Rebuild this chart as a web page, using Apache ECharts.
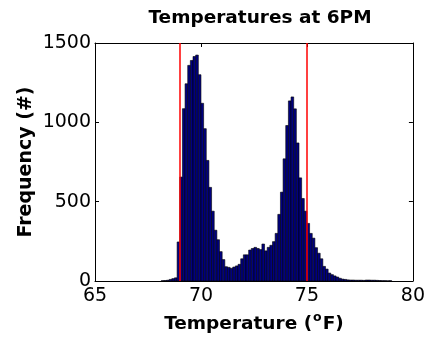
<!DOCTYPE html>
<html>
<head>
<meta charset="utf-8">
<script src="https://cdn.jsdelivr.net/npm/echarts@6/dist/echarts.min.js"></script>
<style>html,body{margin:0;padding:0;background:#fff;}#c{width:428px;height:339px;}</style>
</head>
<body>
<div id="c"></div>
<script>
// Histogram bins: first bin left edge and width (°F)
const binStart = 68.125;
const binWidth = 0.125;
// Counts per bin
const counts = [2, 3, 5, 10, 15, 20, 246, 655, 1086, 1243, 1359, 1390, 1415, 1424, 1300, 1120, 960, 760, 590, 440, 320, 260, 185, 135, 90, 86, 80, 88, 95, 105, 140, 165, 165, 195, 205, 212, 205, 198, 233, 190, 212, 225, 248, 300, 420, 560, 770, 980, 1135, 1160, 1085, 870, 650, 520, 440, 363, 300, 270, 210, 175, 140, 92, 75, 50, 40, 32, 25, 17, 12, 10, 7, 6, 6, 5, 5, 5, 4, 6, 6, 5, 5, 4, 3, 2, 2, 1, 2];
// Red threshold lines
const thresholds = [69, 75];
// Axis ticks
const xTicks = [65, 70, 75, 80];
const yTicks = [0, 500, 1000, 1500];

const data = counts.map((c, i) => [binStart + i * binWidth, binStart + (i + 1) * binWidth, c]);

const font = "'DejaVu Sans', 'Liberation Sans', Arial, sans-serif";
const chart = echarts.init(document.getElementById('c'), null, {renderer: 'canvas'});
const axisCommon = {
  axisLine: {show: true, onZero: false, lineStyle: {color: '#000', width: 1}},
  axisTick: {show: true, inside: true, length: 4, lineStyle: {color: '#000', width: 1}},
  splitLine: {show: false}
};
chart.setOption({
  animation: false,
  backgroundColor: '#fff',
  title: {
    text: 'Temperatures at 6PM',
    left: 255, top: 4, textAlign: 'center',
    textStyle: {fontFamily: font, fontSize: 18.5, fontWeight: 'bold', color: '#000'}
  },
  grid: {left: 95, right: 13, top: 43, bottom: 58},
  xAxis: [
    Object.assign({
      type: 'value', min: xTicks[0], max: xTicks[xTicks.length - 1], interval: 5, position: 'bottom',
      name: '{a|Temperature (}{s|o}{a|F)}', nameLocation: 'middle', nameGap: 30,
      nameTextStyle: {rich: {
        a: {fontFamily: font, fontSize: 18.5, fontWeight: 'bold', color: '#000', verticalAlign: 'bottom'},
        s: {fontFamily: font, fontSize: 12.5, fontWeight: 'bold', color: '#000', verticalAlign: 'top', padding: [0, 1, 10, 1]}
      }},
      axisLabel: {fontFamily: font, fontSize: 19, color: '#000', margin: 6, formatter: v => String(v)}
    }, axisCommon),
    Object.assign({
      type: 'value', min: xTicks[0], max: xTicks[xTicks.length - 1], interval: 5, position: 'top',
      axisLabel: {show: false}
    }, axisCommon)
  ],
  yAxis: [
    Object.assign({
      type: 'value', min: yTicks[0], max: yTicks[yTicks.length - 1], interval: 500, position: 'left',
      name: 'Frequency (#)', nameLocation: 'middle', nameGap: 59, nameMoveOverlap: false,
      nameTextStyle: {fontFamily: font, fontSize: 19, fontWeight: 'bold', color: '#000'},
      axisLabel: {fontFamily: font, fontSize: 19, color: '#000', margin: 4, formatter: v => String(v)}
    }, axisCommon),
    Object.assign({
      type: 'value', min: yTicks[0], max: yTicks[yTicks.length - 1], interval: 500, position: 'right',
      axisLabel: {show: false}
    }, axisCommon)
  ],
  series: [{
    type: 'custom',
    xAxisIndex: 0, yAxisIndex: 0,
    data: data,
    encode: {x: [0, 1], y: 2},
    renderItem: function (params, api) {
      const p0 = api.coord([api.value(0), api.value(2)]);
      const p1 = api.coord([api.value(1), 0]);
      return {
        type: 'rect',
        shape: {x: p0[0], y: p0[1], width: p1[0] - p0[0], height: p1[1] - p0[1]},
        style: {fill: '#000080', stroke: '#000', lineWidth: 0.6}
      };
    },
    markLine: {
      silent: true, symbol: ['none', 'none'], animation: false,
      label: {show: false},
      lineStyle: {color: '#ff0000', width: 1.5, type: 'solid'},
      data: thresholds.map(t => ({xAxis: t}))
    },
    z: 2
  }]
});
</script>
</body>
</html>
